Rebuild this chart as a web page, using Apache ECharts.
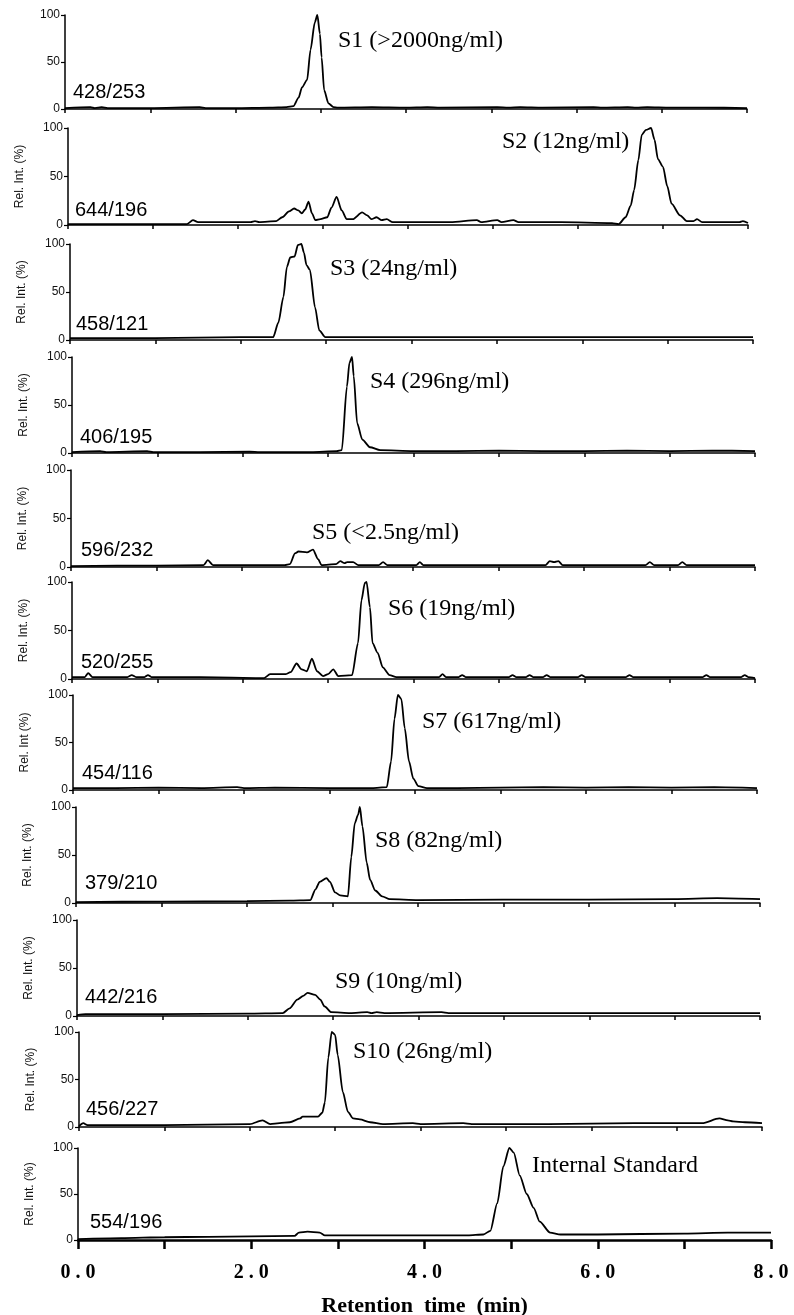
<!DOCTYPE html>
<html>
<head>
<meta charset="utf-8">
<script src="https://cdn.jsdelivr.net/npm/echarts@6/dist/echarts.min.js"></script>
<style>
  html, body { margin: 0; padding: 0; background: #fff; }
  #container { width: 794px; height: 1315px; }
</style>
</head>
<body>
<div id="container"></div>
<script>
// chromatogram traces, [retention time (min), rel. intensity (%)]
let s1 = [[0,1],[0.3,2],[0.35,1],[0.43,2],[0.5,1],[1.0,1],[1.58,2],[1.65,1],[2.0,1],[2.4,1.5],[2.6,2],[2.68,3],[2.74,12],[2.78,23],[2.84,31],[2.88,63],[2.93,92],[2.96,100],[2.99,80],[3.01,55],[3.04,20],[3.09,6],[3.15,2],[3.2,1.5],[3.6,2],[4.0,1.5],[4.25,2],[4.4,1.5],[5.07,2],[5.2,1.5],[5.34,2],[5.6,1.5],[6.2,2],[6.3,1.5],[6.6,2],[6.7,1.5],[6.83,2],[7.1,1.5],[7.5,1.5],[8.0,1]];
let s2 = [[0,1],[1.0,1],[1.4,1],[1.47,5],[1.53,3],[2.0,3],[2.15,3],[2.2,4],[2.25,3],[2.45,4],[2.52,8],[2.6,14],[2.66,17],[2.71,15],[2.75,12],[2.79,16],[2.83,24],[2.87,12],[2.91,5],[2.97,6],[3.05,8],[3.1,18],[3.16,29],[3.22,15],[3.28,6],[3.35,6],[3.46,13],[3.52,10],[3.57,6],[3.63,8],[3.69,5],[3.75,6],[3.82,3],[4.2,3],[4.5,3],[4.81,5],[4.86,3],[5.05,5],[5.1,3],[5.24,5],[5.3,3],[5.8,3],[6.4,2],[6.48,1],[6.56,8],[6.62,20],[6.66,36],[6.71,67],[6.75,93],[6.8,98],[6.86,100],[6.9,88],[6.94,68],[7.0,60],[7.05,40],[7.1,22],[7.2,10],[7.28,4],[7.36,4],[7.4,6],[7.46,3],[7.9,3],[7.94,4],[8.0,2]];
let s3 = [[0,2],[1.0,2],[1.5,2.5],[2.0,3],[2.3,3],[2.38,3],[2.44,18],[2.5,45],[2.54,76],[2.58,86],[2.63,87],[2.67,99],[2.71,100],[2.74,91],[2.77,78],[2.81,73],[2.87,34],[2.92,10],[2.99,3],[3.5,3],[4.0,3],[5.0,3],[6.0,3],[7.0,3],[8.0,3]];
let s4 = [[0,1],[0.33,2],[0.4,1],[0.88,2],[0.95,1],[1.5,1],[2.08,1.5],[2.2,1],[2.8,1],[3.1,2],[3.16,3],[3.22,69],[3.25,94],[3.28,100],[3.3,80],[3.34,31],[3.4,14],[3.49,6],[3.61,3],[4.0,2],[4.5,2],[5.0,2.5],[5.5,2],[6.0,2],[6.5,2.5],[7.0,2],[7.5,2.5],[8.0,2]];
let s5 = [[0,1],[1.0,1.5],[1.55,2],[1.6,7],[1.66,2],[2.0,2],[2.5,2],[2.56,3],[2.62,14],[2.66,16],[2.76,15],[2.83,18],[2.89,8],[2.93,2],[3.1,3],[3.15,6],[3.2,4],[3.23,5],[3.3,5],[3.36,2],[3.6,2],[3.65,5],[3.7,2],[4.04,2],[4.08,5],[4.12,2],[5.55,2],[5.6,6],[5.65,5],[5.7,6],[5.75,2],[6.72,2],[6.77,5],[6.82,2],[7.1,2],[7.15,5],[7.2,2],[8.0,2]];
let s6 = [[0,2],[0.15,2],[0.19,6],[0.24,2],[0.65,2],[0.7,4],[0.75,2],[0.85,2],[0.89,4],[0.93,2],[1.5,2],[2.25,1],[2.32,5],[2.5,5],[2.56,7],[2.63,16],[2.69,10],[2.75,8],[2.81,21],[2.87,8],[2.94,3],[3.0,5],[3.06,10],[3.12,3],[3.28,4],[3.35,37],[3.39,81],[3.43,99],[3.45,100],[3.49,74],[3.52,37],[3.58,27],[3.64,12],[3.72,4],[3.8,2],[4.3,2],[4.34,5],[4.38,2],[4.53,2],[4.57,4],[4.61,2],[5.12,2],[5.16,4],[5.2,2],[5.32,2],[5.36,4],[5.4,2],[5.52,2],[5.56,4],[5.6,2],[5.93,2],[5.97,4],[6.01,2],[6.49,2],[6.53,4],[6.57,2],[7.39,2],[7.43,4],[7.47,2],[7.84,2],[7.88,4],[7.92,2],[8.0,1]];
let s7 = [[0,2],[0.5,2],[1.0,2.5],[1.5,2],[1.92,3],[2.0,2],[2.36,2.5],[3.0,2],[3.5,2],[3.67,3],[3.72,30],[3.76,75],[3.8,100],[3.84,96],[3.88,65],[3.93,30],[3.98,12],[4.04,4],[4.14,2],[4.5,2],[5.0,2.5],[5.5,3],[6.0,2.5],[6.5,3],[7.0,2.5],[7.5,3],[8.0,2]];
let s8 = [[0,1],[1.0,1.5],[2.0,2],[2.5,2.5],[2.74,3],[2.8,14],[2.85,22],[2.93,26],[2.97,22],[3.03,11],[3.09,8],[3.18,7],[3.22,48],[3.26,83],[3.3,92],[3.32,100],[3.35,80],[3.4,42],[3.44,24],[3.5,13],[3.58,7],[3.67,4],[4.0,3],[5.0,3.5],[6.0,3.5],[7.0,4],[7.5,5],[8.0,4]];
let s9 = [[0,1],[0.1,2],[1.0,2],[2.0,2.5],[2.41,3],[2.49,8],[2.58,17],[2.65,21],[2.7,24],[2.79,22],[2.85,17],[2.9,10],[2.98,4],[3.2,3],[3.4,4],[3.45,3],[3.51,4],[3.6,3],[4.27,4],[4.35,3],[5.0,3],[6.0,3],[7.0,3],[8.0,3]];
let s10 = [[0,1],[0.05,4],[0.1,2],[1.0,2],[2.0,3],[2.15,7],[2.24,3],[2.35,4],[2.47,5],[2.59,9],[2.62,11],[2.8,11],[2.85,15],[2.88,26],[2.92,73],[2.96,100],[3.0,97],[3.03,76],[3.09,37],[3.15,16],[3.21,9],[3.29,8],[3.41,5],[3.56,3],[3.91,4],[4.0,3],[4.5,4],[4.6,3],[5.5,3],[6.5,4],[7.3,4],[7.5,9],[7.6,7],[7.66,6],[7.8,5],[8.0,4]];
let s11 = [[0,1],[0.5,2],[1.0,3],[1.5,3.5],[2.0,4],[2.5,4.5],[2.55,8],[2.65,9],[2.79,8],[2.85,5],[3.5,5],[4.0,5],[4.5,5],[4.68,6],[4.76,10],[4.84,40],[4.91,80],[4.98,100],[5.03,95],[5.1,70],[5.18,50],[5.26,35],[5.33,20],[5.45,8],[5.57,6],[6.0,6],[7.0,7],[7.5,8],[8.0,8]];

let traces = [s1, s2, s3, s4, s5, s6, s7, s8, s9, s10, s11];
let transitions = ['428/253', '644/196', '458/121', '406/195', '596/232', '520/255', '454/116', '379/210', '442/216', '456/227', '554/196'];
let peakNames = ['S1 (>2000ng/ml)', 'S2 (12ng/ml)', 'S3 (24ng/ml)', 'S4 (296ng/ml)', 'S5 (<2.5ng/ml)', 'S6 (19ng/ml)', 'S7 (617ng/ml)', 'S8 (82ng/ml)', 'S9 (10ng/ml)', 'S10 (26ng/ml)', 'Internal Standard'];
let yNames = ['', 'Rel. Int. (%)', 'Rel. Int. (%)', 'Rel. Int. (%)', 'Rel. Int. (%)', 'Rel. Int. (%)', 'Rel. Int (%)', 'Rel. Int. (%)', 'Rel. Int. (%)', 'Rel. Int. (%)', 'Rel. Int. (%)'];

// layout: [left, right, top, bottom] in px (the scan is a little skewed)
let boxes = [
  [65, 747, 15, 109], [68, 748, 128, 225], [70, 753, 244, 340], [72, 755, 357, 453],
  [71, 755, 470, 567], [72, 755, 582, 679], [73, 757, 695, 790], [76, 760, 807, 903],
  [77, 760, 920, 1016], [79, 762, 1032, 1127], [78, 771, 1148, 1240]
];
let peakPos = [[338, 41], [502, 142], [330, 269], [370, 382], [312, 533], [388, 609], [422, 722], [375, 841], [335, 982], [353, 1052], [532, 1166]];
let mzPos = [[73, 92], [75, 210], [76, 324], [80, 437], [81, 550], [81, 662], [82, 773], [85, 883], [85, 997], [86, 1109], [90, 1222]];

var myChart = echarts.init(document.getElementById('container'));
let last = traces.length - 1;

let grid = [], xAxis = [], yAxis = [], series = [], graphic = [];

traces.forEach((tr, i) => {
  let [l, r, t, b] = boxes[i];
  let isLast = i === last;
  grid.push({ left: l, top: t, width: r - l, height: b - t, containLabel: false, outerBoundsMode: 'none' });
  xAxis.push({
    type: 'value',
    gridIndex: i,
    min: 0,
    max: 8,
    interval: 1,
    axisLine: { show: true, onZero: false, lineStyle: { color: '#000', width: isLast ? 2.5 : 1.5 } },
    axisTick: { show: true, inside: false, length: isLast ? 9 : 4, lineStyle: { color: '#000', width: isLast ? 2.5 : 1.5 } },
    splitLine: { show: false },
    axisLabel: {
      show: isLast,
      margin: 23,
      fontFamily: 'Liberation Serif',
      fontWeight: 'bold',
      fontSize: 20,
      color: '#000',
      formatter: (v) => (v % 2 === 0 ? v.toFixed(1).split('').join(' ') : ''),
    },
    name: isLast ? 'Retention  time  (min)' : '',
    nameLocation: 'middle',
    nameGap: 55,
    nameTextStyle: { fontFamily: 'Liberation Serif', fontWeight: 'bold', fontSize: 22, color: '#000' },
  });
  yAxis.push({
    type: 'value',
    gridIndex: i,
    min: 0,
    max: 100,
    interval: 50,
    axisLine: { show: true, lineStyle: { color: '#000', width: 1.5 } },
    axisTick: { show: true, length: 4, lineStyle: { color: '#000', width: 1.2 } },
    splitLine: { show: false },
    axisLabel: { margin: 5, fontFamily: 'Liberation Sans', fontSize: 12, color: '#111' },
    name: yNames[i],
    nameLocation: 'middle',
    nameRotate: 90,
    nameGap: 42,
    nameTextStyle: { fontFamily: 'Liberation Sans', fontSize: 12, color: '#111' },
  });
  series.push({
    name: transitions[i],
    type: 'line',
    xAxisIndex: i,
    yAxisIndex: i,
    data: tr,
    showSymbol: false,
    smooth: 0.25,
    smoothMonotone: 'x',
    lineStyle: { color: '#000', width: 1.8 },
    silent: true,
    animation: false,
  });
  graphic.push({
    type: 'text',
    x: mzPos[i][0],
    y: mzPos[i][1],
    style: { text: transitions[i], font: '20px "Liberation Sans"', fill: '#000', verticalAlign: 'middle' },
  });
  graphic.push({
    type: 'text',
    x: peakPos[i][0],
    y: peakPos[i][1],
    style: { text: peakNames[i], font: '24px "Liberation Serif"', fill: '#000', verticalAlign: 'middle' },
  });
});

let option = {
  backgroundColor: '#fff',
  animation: false,
  grid: grid,
  xAxis: xAxis,
  yAxis: yAxis,
  series: series,
  graphic: graphic,
};

myChart.setOption(option);
</script>
</body>
</html>
